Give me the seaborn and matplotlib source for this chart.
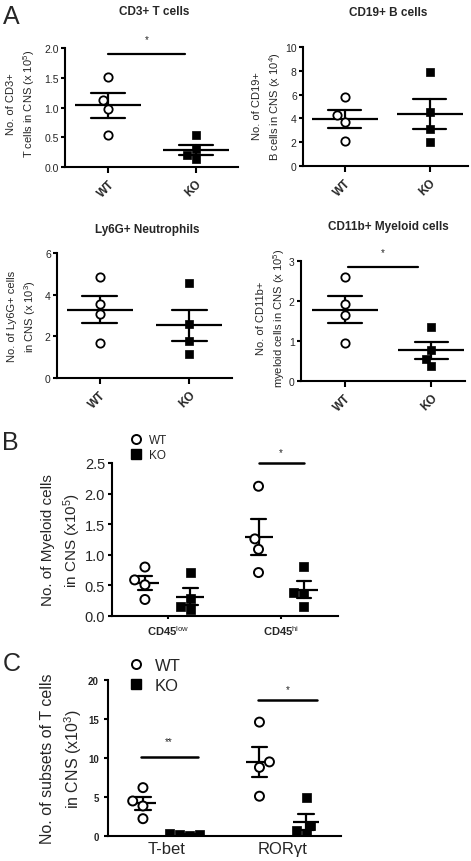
import matplotlib
matplotlib.use('Agg')
import matplotlib.pyplot as plt
from matplotlib.lines import Line2D
import seaborn as sns
import pandas as pd

groups = ['WT', 'KO']

# panel A values (one list per group)
cd3_wt = [1.52, 1.12, 0.97, 0.53]
cd3_ko = [0.53, 0.30, 0.20, 0.13]
cd19_wt = [5.8, 4.3, 3.7, 2.1]
cd19_ko = [7.9, 4.5, 3.1, 2.0]
ly6g_wt = [4.85, 3.55, 3.05, 1.7]
ly6g_ko = [4.55, 2.6, 1.8, 1.15]
cd11b_wt = [2.6, 1.92, 1.65, 0.95]
cd11b_ko = [1.36, 0.78, 0.56, 0.38]

# panel B
myeloid_subsets = ['CD45low', 'CD45hi']
myeloid_labels = ['CD45$^{\\mathrm{low}}$', 'CD45$^{\\mathrm{hi}}$']
myeloid_wt = [[0.80, 0.59, 0.51, 0.27], [2.12, 1.26, 1.09, 0.71]]
myeloid_ko = [[0.71, 0.29, 0.16, 0.11], [0.81, 0.38, 0.37, 0.16]]

# panel C
tcell_subsets = ['T-bet', 'ROR\u03b3t']
tcell_wt = [[6.2, 4.49, 3.85, 2.22], [14.6, 9.5, 8.8, 5.1]]
tcell_ko = [[0.35, 0.25, 0.15, 0.10], [4.9, 1.4, 0.7, 0.3]]

sns.set_style('ticks')
plt.rcParams['font.family'] = ['Liberation Sans', 'DejaVu Sans']
plt.rcParams['mathtext.fontset'] = 'custom'
plt.rcParams['mathtext.rm'] = 'Liberation Sans'
plt.rcParams['mathtext.it'] = 'Liberation Sans:italic'
plt.rcParams['mathtext.bf'] = 'Liberation Sans:bold'

W, H = 471, 862
fig = plt.figure(figsize=(W / 100, H / 100), dpi=100)


def rect(x0, y0, x1, y1):
    # pixel box -> figure fraction
    return [x0 / W, 1 - y1 / H, (x1 - x0) / W, (y1 - y0) / H]


def style_axes(ax, lw=1.5):
    sns.despine(ax=ax)
    for s in ['left', 'bottom']:
        ax.spines[s].set_linewidth(lw)
        ax.spines[s].set_color('black')
    ax.tick_params(width=lw, color='black', length=3)


def panel_a(ax, wt, ko, title, title_xy, ylabel, ylim, yticks, fmt, xlim, label_xy, sig=None):
    df = pd.DataFrame({'group': ['WT'] * len(wt) + ['KO'] * len(ko),
                       'value': wt + ko})
    sns.swarmplot(data=df[df.group == 'WT'], x='group', y='value', order=groups,
                  marker='o', color='white', edgecolor='black', linewidth=1.3,
                  size=6, ax=ax, zorder=3)
    sns.swarmplot(data=df[df.group == 'KO'], x='group', y='value', order=groups,
                  marker='s', color='black', edgecolor='black', linewidth=0.5,
                  size=6, ax=ax, zorder=3)
    # mean line + SEM
    sns.pointplot(data=df, x='group', y='value', order=groups, color='black',
                  errorbar='se', markers='_', markersize=48, markeredgewidth=1.6,
                  linestyle='none', capsize=0.39, err_kws={'linewidth': 1.6}, ax=ax)
    ax.set_ylim(*ylim)
    ax.set_yticks(yticks)
    ax.set_yticklabels([fmt.format(t) for t in yticks], fontsize=7.5)
    ax.set_xlim(*xlim)
    ax.set_xticks([0, 1])
    ax.set_xticklabels(groups, rotation=45, ha='right', rotation_mode='anchor',
                       fontsize=8.5, fontweight='bold')
    ax.set_xlabel('')
    ax.set_ylabel(ylabel, fontsize=8, linespacing=1.45)
    ax.yaxis.set_label_coords(*label_xy)
    style_axes(ax)
    ax.tick_params(axis='x', length=4)
    ax.tick_params(axis='y', pad=1.5)
    fig.text(title_xy[0] / W, 1 - title_xy[1] / H, title, fontsize=8.5,
             fontweight='bold', ha='center', va='center')
    if sig:
        x0, x1, y, ys, txt = sig
        ax.plot([x0, x1], [y, y], color='black', lw=1.6, clip_on=False)
        ax.text((x0 + x1) / 2, ys, txt, ha='center', va='center', fontsize=7)


def panel_grouped(ax, cats, ticklabels, wt, ko, ylim, yticks, fmt, xlim,
                  ylabel, ylabel_size, tick_size, xtick_size, xtick_weight, label_xy,
                  mean_w, cap, msize, sigs, legend_xy, legend_size):
    rows = []
    for c, w, k in zip(cats, wt, ko):
        rows += [(c, 'WT', v) for v in w] + [(c, 'KO', v) for v in k]
    df = pd.DataFrame(rows, columns=['subset', 'group', 'value'])
    pal = {'WT': 'white', 'KO': 'black'}
    for g, m in [('WT', 'o'), ('KO', 's')]:
        sns.swarmplot(data=df[df.group == g], x='subset', y='value', hue='group',
                      hue_order=groups, order=cats, dodge=True, palette=pal,
                      marker=m, edgecolor='black', linewidth=1.4 if g == 'WT' else 0.5,
                      size=msize, ax=ax, legend=False, zorder=3)
    sns.pointplot(data=df, x='subset', y='value', hue='group', hue_order=groups,
                  order=cats, dodge=0.4, palette={'WT': 'black', 'KO': 'black'},
                  errorbar='se', markers='_', markersize=mean_w, markeredgewidth=1.6,
                  linestyle='none', capsize=cap, err_kws={'linewidth': 1.6},
                  ax=ax, legend=False)
    ax.set_ylim(*ylim)
    ax.set_yticks(yticks)
    ax.set_yticklabels([fmt.format(t) for t in yticks], fontsize=tick_size[0],
                       fontweight=tick_size[1])
    ax.set_xlim(*xlim)
    ax.set_xticks([0, 1])
    ax.set_xticklabels(ticklabels, fontsize=xtick_size, fontweight=xtick_weight)
    ax.set_xlabel('')
    ax.set_ylabel(ylabel, fontsize=ylabel_size, linespacing=1.4)
    ax.yaxis.set_label_coords(*label_xy)
    style_axes(ax)
    for x0, x1, y, ys, txt in sigs:
        ax.plot([x0, x1], [y, y], color='black', lw=1.8, clip_on=False)
        ax.text((x0 + x1) / 2, ys, txt, ha='center', va='center', fontsize=7)
    handles = [Line2D([], [], marker='o', ls='none', mfc='white', mec='black',
                      mew=1.4, ms=msize),
               Line2D([], [], marker='s', ls='none', mfc='black', mec='black',
                      ms=msize)]
    ax.legend(handles, groups, loc='center left', bbox_to_anchor=legend_xy,
              frameon=False, fontsize=legend_size, borderpad=0, borderaxespad=0,
              handletextpad=0.6, labelspacing=0.3, handlelength=1.0)


ax1 = fig.add_axes(rect(65, 49, 238, 168))
panel_a(ax1, cd3_wt, cd3_ko, 'CD3+ T cells', (154, 12),
        'No. of CD3+\nT cells in CNS (x 10$^{5}$)', (0, 2), [0, 0.5, 1.0, 1.5, 2.0],
        '{:.1f}', (-0.49, 1.48), (-0.16, 0.54), sig=(0, 0.88, 1.9, 2.15, '*'))

ax2 = fig.add_axes(rect(303, 48, 468, 167))
panel_a(ax2, cd19_wt, cd19_ko, 'CD19+ B cells', (388, 13),
        'No. of CD19+\nB cells in CNS (x 10$^{4}$)', (0, 10), [0, 2, 4, 6, 8, 10],
        '{:d}', (-0.49, 1.45), (-0.12, 0.51))

ax3 = fig.add_axes(rect(57, 254, 232, 379))
panel_a(ax3, ly6g_wt, ly6g_ko, 'Ly6G+ Neutrophils', (147, 230),
        'No. of Ly6G+ cells\nin CNS (x 10$^{3}$)', (0, 6), [0, 2, 4, 6],
        '{:d}', (-0.48, 1.48), (-0.11, 0.5))

ax4 = fig.add_axes(rect(301, 262, 465, 382))
panel_a(ax4, cd11b_wt, cd11b_ko, 'CD11b+ Myeloid cells', (388, 227),
        'No. of CD11b+\nmyeloid cells in CNS (x 10$^{5}$)', (0, 3), [0, 1, 2, 3],
        '{:d}', (-0.51, 1.39), (-0.085, 0.53), sig=(0.03, 0.84, 2.86, 3.22, '*'))

axb = fig.add_axes(rect(112, 464, 338, 617))
panel_grouped(axb, myeloid_subsets, myeloid_labels, myeloid_wt, myeloid_ko,
              (0, 2.5), [0, 0.5, 1.0, 1.5, 2.0, 2.5], '{:.1f}', (-0.49, 1.5),
              'No. of Myeloid cells\nin CNS (x10$^{5}$)', 11, (10.5, 'normal'), 8, 'bold',
              (-0.13, 0.5), 20, 0.13, 6.5, [(0.8, 1.2, 2.5, 2.68, '*')], (0.08, 1.10), 8.5)
axb.tick_params(axis='x', length=2)
axb.tick_params(axis='y', pad=2)

axc = fig.add_axes(rect(108, 681, 341, 837))
panel_grouped(axc, tcell_subsets, tcell_subsets, tcell_wt, tcell_ko,
              (0, 20), [0, 5, 10, 15, 20], '{:d}', (-0.5, 1.5),
              'No. of subsets of T cells\nin CNS (x10$^{3}$)', 11.5, (7, 'bold'), 12, 'normal',
              (-0.105, 0.5), 19, 0.13, 6.5,
              [(-0.22, 0.27, 10.1, 12.2, '**'), (0.79, 1.29, 17.4, 18.8, '*')],
              (0.086, 1.03), 12)
axc.tick_params(axis='x', length=0)

for txt, x, y in [('A', 3, 17), ('B', 2, 443), ('C', 3, 664)]:
    fig.text(x / W, 1 - y / H, txt, fontsize=18, va='center', ha='left')

fig.savefig('out.png', dpi=100)
